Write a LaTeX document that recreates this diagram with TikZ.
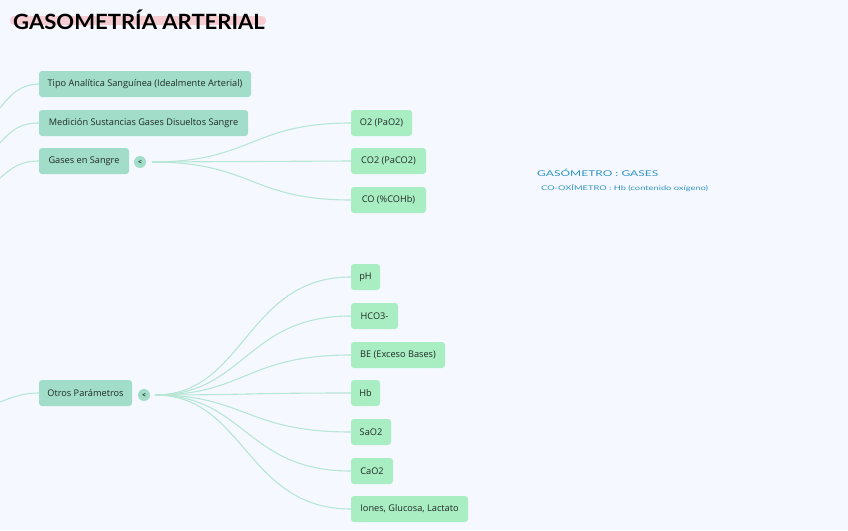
\documentclass[tikz,border=0pt]{standalone}
\usepackage{fontspec}
\usepackage{graphicx}
\setmainfont{Open Sans}
\newfontfamily\titlefont{Lato}
\definecolor{bgc}{HTML}{F5F9FF}
\definecolor{lone}{HTML}{A2DDC9}
\definecolor{ltwo}{HTML}{A9EDC2}
\definecolor{linec}{HTML}{B7E6D4}
\definecolor{txtc}{HTML}{1F2B26}
\definecolor{notec}{HTML}{2F93C4}
\definecolor{hilite}{HTML}{F6CDD3}
\tikzset{
  lvone/.style={rectangle, rounded corners=3pt, fill=lone, minimum height=26pt,
    inner xsep=0pt, inner ysep=0pt, text=txtc, font=\fontsize{9.2}{10}\selectfont},
  lvtwo/.style={lvone, fill=ltwo},
  togglec/.style={circle, fill=lone, minimum size=12pt, inner sep=0pt, text=txtc,
    font=\fontsize{6.5}{6.5}\selectfont\bfseries},
  conn/.style={draw=linec, line width=1.1pt},
  note/.style={anchor=west, text=notec, inner sep=0pt}
}
\begin{document}
\begin{tikzpicture}[x=1pt,y=-1pt]
\fill[bgc] (0,0) rectangle (848,530);
\useasboundingbox (0,0) rectangle (848,530);
% title
\fill[hilite, rounded corners=4pt] (10,16) rectangle (266,25);
\node[anchor=west, inner sep=0pt, font=\titlefont\fontsize{21}{21}\selectfont\bfseries, text=black] (title) at (13,20) {\scalebox{1.05}[1.0]{GASOMETRÍA ARTERIAL}};
% first level nodes
\node[lvone, minimum width=212pt] (tipo) at (145,84) {Tipo Analítica Sanguínea (Idealmente Arterial)};
\node[lvone, minimum width=209pt] (medi) at (143.5,123) {Medición Sustancias Gases Disueltos Sangre};
\node[lvone, minimum width=90pt] (gases) at (84,161) {Gases en Sangre};
\node[lvone, minimum width=93pt] (otros) at (85.5,393) {Otros Parámetros};
\node[togglec] (gt) at (140,162) {<};
\node[togglec] (ot) at (144,395) {<};
% second level nodes
\node[lvtwo, minimum width=61pt] (o2) at (381.5,123) {O2 (PaO2)};
\node[lvtwo, minimum width=75pt] (co2) at (388.5,161) {CO2 (PaCO2)};
\node[lvtwo, minimum width=75pt] (co) at (388.5,200) {CO (\%COHb)};
\node[lvtwo, minimum width=29pt] (ph) at (365.5,277) {pH};
\node[lvtwo, minimum width=47pt] (hco) at (374.5,316) {HCO3-};
\node[lvtwo, minimum width=94pt] (be) at (398,355) {BE (Exceso Bases)};
\node[lvtwo, minimum width=29pt] (hb) at (365.5,393) {Hb};
\node[lvtwo, minimum width=40pt] (sao) at (371,432) {SaO2};
\node[lvtwo, minimum width=42pt] (cao) at (372,471) {CaO2};
\node[lvtwo, minimum width=117pt] (ion) at (409.5,509) {Iones, Glucosa, Lactato};
% notes
\node[note, font=\titlefont\fontsize{8}{8}\selectfont] (n1) at (537,173) {\scalebox{1.5}[1]{GASÓMETRO : GASES}};
\node[note, font=\titlefont\fontsize{6.5}{7}\selectfont] (n2) at (541,188) {\scalebox{1.43}[1]{CO-OXÍMETRO : Hb (contenido oxígeno)}};
% left incoming connectors
\coordinate (la) at (0,108);
\coordinate (lb) at (0,143);
\coordinate (lc) at (0,178);
\coordinate (ld) at (0,402);
\draw[conn] (la) .. controls (12,93) and (20,85) .. (tipo.west);
\draw[conn] (lb) .. controls (12,130) and (20,123) .. (medi.west);
\draw[conn] (lc) .. controls (12,168) and (20,161) .. (gases.west);
\draw[conn] (ld) .. controls (15,396) and (25,393) .. (otros.west);
% gases branch
\coordinate (gs) at (152,162);
\foreach \t in {o2,co2,co}{
  \draw[conn] (gs) .. controls +(100,0) and +(-100,0) .. (\t.west);
}
% otros branch
\coordinate (os) at (155,395);
\foreach \t in {ph,hco,be,hb,sao,cao,ion}{
  \draw[conn] (os) .. controls +(90,0) and +(-105,0) .. (\t.west);
}
\end{tikzpicture}
\end{document}
